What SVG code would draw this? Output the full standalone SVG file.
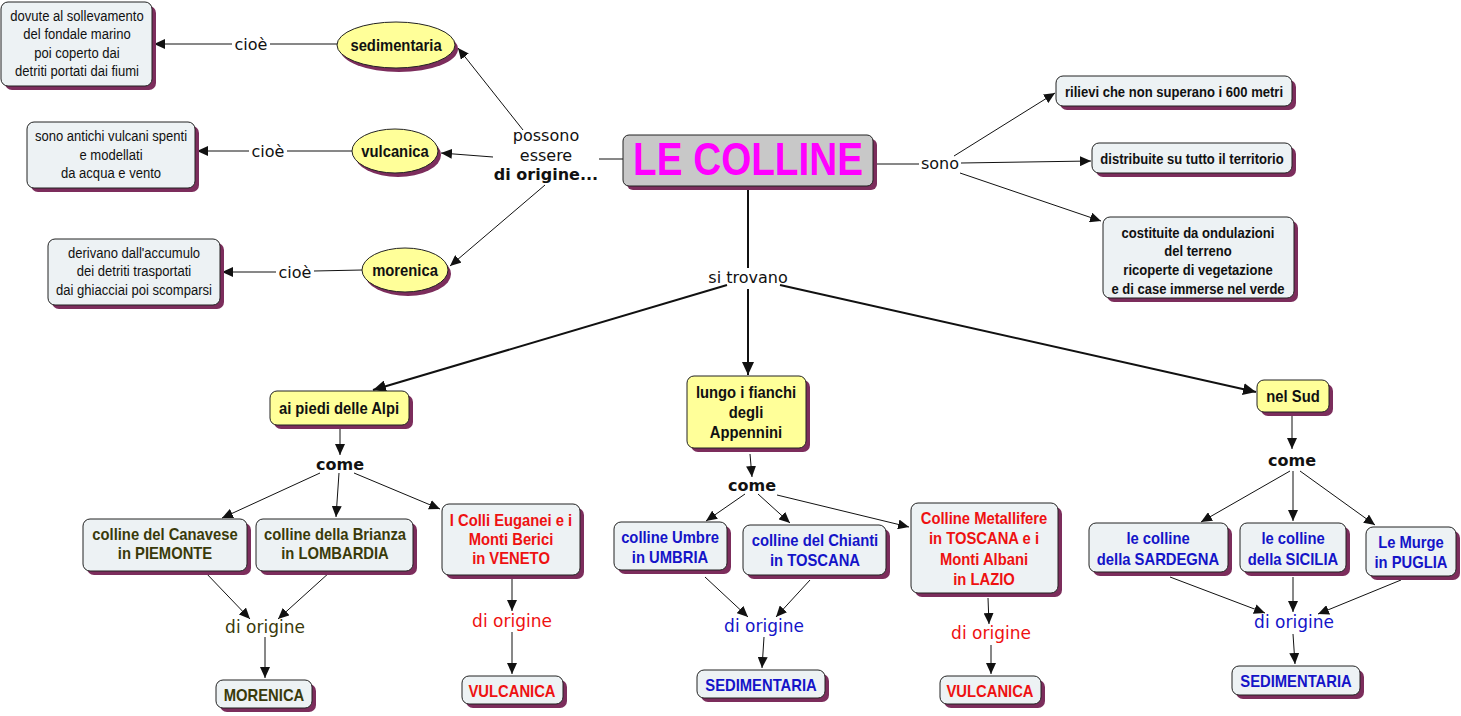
<svg xmlns="http://www.w3.org/2000/svg" width="1461" height="716" viewBox="0 0 1461 716">
<defs>
<style>
.bg{fill:#ffffff}
.sh{fill:#7c2d5c}
.box{fill:#edf2f4;stroke:#222;stroke-width:1}
.yel{fill:#ffff99;stroke:#222;stroke-width:1}
.main{fill:#c8c8c8;stroke:#222;stroke-width:1}
.t{font-family:"Liberation Sans",Arial,sans-serif;text-anchor:middle}
.b{font-weight:bold}
.r13{font-size:15px;fill:#111}
.b13{font-size:15px;font-weight:bold;fill:#111}
.b15{font-size:17px;font-weight:bold}
.b16{font-size:17px;font-weight:bold}
.lk{font-family:"DejaVu Sans",Verdana,sans-serif;text-anchor:middle;font-size:16px;fill:#111}
.dio{font-family:"DejaVu Sans",Verdana,sans-serif;text-anchor:middle;font-size:17px}
.ol{fill:#3a3a0a}
.rd{fill:#ee1111}
.bl{fill:#1414c8}
.bk{fill:#111}
.c line{stroke:#111;stroke-width:1;fill:none}
.c line.a{marker-end:url(#ar)}
.c line.w{stroke-width:2}
.c line.wa{stroke-width:2;marker-end:url(#ar2)}
</style>
<marker id="ar" markerUnits="userSpaceOnUse" markerWidth="11" markerHeight="10" refX="11" refY="5" orient="auto"><path d="M0,0 L11,5 L0,10 z" fill="#111"/></marker>
<marker id="ar2" markerUnits="userSpaceOnUse" markerWidth="13" markerHeight="12" refX="13" refY="6" orient="auto"><path d="M0,0 L13,6 L0,12 z" fill="#111"/></marker>
</defs>
<rect class="bg" x="0" y="0" width="1461" height="716"/>

<g id="connectors" class="c">
<line x1="337" y1="44" x2="270" y2="44"/>
<line class="a" x1="232" y1="44" x2="154" y2="44"/>
<line x1="352" y1="151" x2="287" y2="151"/>
<line class="a" x1="249" y1="151" x2="197" y2="151"/>
<line x1="362" y1="270" x2="314" y2="271"/>
<line class="a" x1="276" y1="272" x2="222" y2="272"/>
<line x1="623" y1="159" x2="599" y2="159"/>
<line class="a" x1="523" y1="130" x2="458" y2="48"/>
<line class="a" x1="493" y1="157" x2="441" y2="153"/>
<line class="a" x1="545" y1="185" x2="450" y2="266"/>
<line x1="873" y1="164" x2="919" y2="164"/>
<line class="a" x1="954" y1="156" x2="1055" y2="93"/>
<line class="a" x1="961" y1="163" x2="1091" y2="161"/>
<line class="a" x1="960" y1="173" x2="1101" y2="221"/>
<line class="w" x1="748" y1="187" x2="748" y2="268"/>
<line class="wa" x1="727" y1="285" x2="373" y2="390"/>
<line class="wa" x1="748" y1="289" x2="748" y2="375"/>
<line class="wa" x1="780" y1="285" x2="1256" y2="392"/>
<line class="a" x1="340" y1="426" x2="340" y2="455"/>
<line class="a" x1="320" y1="473" x2="222" y2="518"/>
<line class="a" x1="339" y1="473" x2="336" y2="517"/>
<line class="a" x1="354" y1="473" x2="440" y2="509"/>
<line class="a" x1="205" y1="572" x2="250" y2="619"/>
<line class="a" x1="330" y1="572" x2="278" y2="619"/>
<line class="a" x1="265" y1="637" x2="265" y2="678"/>
<line class="a" x1="512" y1="576" x2="512" y2="611"/>
<line class="a" x1="512" y1="632" x2="512" y2="674"/>
<line class="a" x1="750" y1="454" x2="752" y2="477"/>
<line class="a" x1="745" y1="494" x2="706" y2="521"/>
<line class="a" x1="758" y1="494" x2="790" y2="523"/>
<line class="a" x1="777" y1="495" x2="909" y2="527"/>
<line class="a" x1="705" y1="577" x2="748" y2="617"/>
<line class="a" x1="810" y1="580" x2="776" y2="617"/>
<line class="a" x1="764" y1="637" x2="762" y2="668"/>
<line class="a" x1="988" y1="598" x2="989" y2="624"/>
<line class="a" x1="991" y1="645" x2="991" y2="674"/>
<line class="a" x1="1292" y1="414" x2="1292" y2="449"/>
<line class="a" x1="1290" y1="471" x2="1201" y2="522"/>
<line class="a" x1="1293" y1="471" x2="1293" y2="521"/>
<line class="a" x1="1300" y1="471" x2="1375" y2="525"/>
<line class="a" x1="1170" y1="577" x2="1265" y2="613"/>
<line class="a" x1="1293" y1="577" x2="1293" y2="612"/>
<line class="a" x1="1401" y1="580" x2="1318" y2="614"/>
<line class="a" x1="1293" y1="634" x2="1295" y2="664"/>
</g>

<g id="link-labels">
<text class="lk" x="251" y="50">cioè</text>
<text class="lk" x="268" y="157">cioè</text>
<text class="lk" x="295" y="278">cioè</text>
<text class="lk" x="546" y="141">possono</text>
<text class="lk" x="546" y="161">essere</text>
<text class="lk b" x="546" y="180">di origine...</text>
<text class="lk" x="940" y="169">sono</text>
<text class="lk" x="748" y="283">si trovano</text>
<text class="lk b" x="340" y="470">come</text>
<text class="lk b" x="752" y="491">come</text>
<text class="lk b" x="1292" y="466">come</text>
<text class="dio ol" x="265" y="633">di origine</text>
<text class="dio rd" x="512" y="627">di origine</text>
<text class="dio bl" x="764" y="632">di origine</text>
<text class="dio rd" x="991" y="639">di origine</text>
<text class="dio bl" x="1294" y="628">di origine</text>
</g>

<g id="n-main">
<rect class="sh" x="627" y="139" width="250" height="51" rx="6"/>
<rect class="main" x="623" y="135" width="250" height="51" rx="6"/>
<text class="t b" x="748" y="175" font-size="46" fill="#ff00ff" textLength="230" lengthAdjust="spacingAndGlyphs">LE COLLINE</text>
</g>

<g id="n-sedimentaria">
<ellipse class="sh" cx="399" cy="49" rx="59" ry="23"/>
<ellipse class="yel" cx="396" cy="45" rx="59" ry="23"/>
<text class="t b15 bk" transform="translate(396,51) scale(0.87,1)">sedimentaria</text>
</g>
<g id="n-vulcanica">
<ellipse class="sh" cx="398" cy="155" rx="43" ry="22"/>
<ellipse class="yel" cx="395" cy="151" rx="43" ry="22"/>
<text class="t b15 bk" transform="translate(395,157) scale(0.87,1)">vulcanica</text>
</g>
<g id="n-morenica">
<ellipse class="sh" cx="408" cy="274" rx="43" ry="22"/>
<ellipse class="yel" cx="405" cy="270" rx="43" ry="22"/>
<text class="t b15 bk" transform="translate(405,276) scale(0.87,1)">morenica</text>
</g>

<g id="n-dovute">
<rect class="sh" x="5" y="6" width="151" height="84" rx="7"/>
<rect class="box" x="1" y="2" width="151" height="84" rx="7"/>
<text class="t r13" transform="translate(77,21) scale(0.87,1)">dovute al sollevamento</text>
<text class="t r13" transform="translate(77,39) scale(0.87,1)">del fondale marino</text>
<text class="t r13" transform="translate(77,58) scale(0.87,1)">poi coperto dai</text>
<text class="t r13" transform="translate(77,76) scale(0.87,1)">detriti portati dai fiumi</text>
</g>
<g id="n-antichi">
<rect class="sh" x="31" y="126" width="168" height="66" rx="7"/>
<rect class="box" x="27" y="122" width="168" height="66" rx="7"/>
<text class="t r13" transform="translate(111,141) scale(0.87,1)">sono antichi vulcani spenti</text>
<text class="t r13" transform="translate(111,160) scale(0.87,1)">e modellati</text>
<text class="t r13" transform="translate(111,178) scale(0.87,1)">da acqua e vento</text>
</g>
<g id="n-derivano">
<rect class="sh" x="52" y="243" width="172" height="66" rx="7"/>
<rect class="box" x="48" y="239" width="172" height="66" rx="7"/>
<text class="t r13" transform="translate(134,258) scale(0.87,1)">derivano dall'accumulo</text>
<text class="t r13" transform="translate(134,276) scale(0.87,1)">dei detriti trasportati</text>
<text class="t r13" transform="translate(134,295) scale(0.87,1)">dai ghiacciai poi scomparsi</text>
</g>

<g id="n-rilievi">
<rect class="sh" x="1060" y="80" width="236" height="30" rx="7"/>
<rect class="box" x="1056" y="76" width="236" height="30" rx="7"/>
<text class="t b13" transform="translate(1174,97) scale(0.87,1)">rilievi che non superano i 600 metri</text>
</g>
<g id="n-distribuite">
<rect class="sh" x="1096" y="147" width="200" height="30" rx="7"/>
<rect class="box" x="1092" y="143" width="200" height="30" rx="7"/>
<text class="t b13" transform="translate(1192,164) scale(0.87,1)">distribuite su tutto il territorio</text>
</g>
<g id="n-costituite">
<rect class="sh" x="1107" y="221" width="191" height="81" rx="7"/>
<rect class="box" x="1103" y="217" width="191" height="81" rx="7"/>
<text class="t b13" transform="translate(1198,238) scale(0.87,1)">costituite da ondulazioni</text>
<text class="t b13" transform="translate(1198,256) scale(0.87,1)">del terreno</text>
<text class="t b13" transform="translate(1198,275) scale(0.87,1)">ricoperte di vegetazione</text>
<text class="t b13" transform="translate(1198,294) scale(0.87,1)">e di case immerse nel verde</text>
</g>

<g id="n-alpi">
<rect class="sh" x="274" y="395" width="139" height="34" rx="7"/>
<rect class="yel" x="270" y="391" width="139" height="34" rx="7"/>
<text class="t b15 bk" transform="translate(339,414) scale(0.87,1)">ai piedi delle Alpi</text>
</g>
<g id="n-appennini">
<rect class="sh" x="691" y="380" width="119" height="72" rx="7"/>
<rect class="yel" x="687" y="376" width="119" height="72" rx="7"/>
<text class="t b15 bk" transform="translate(746,398) scale(0.87,1)">lungo i fianchi</text>
<text class="t b15 bk" transform="translate(746,418) scale(0.87,1)">degli</text>
<text class="t b15 bk" transform="translate(746,438) scale(0.87,1)">Appennini</text>
</g>
<g id="n-sud">
<rect class="sh" x="1261" y="384" width="72" height="32" rx="7"/>
<rect class="yel" x="1257" y="380" width="72" height="32" rx="7"/>
<text class="t b15 bk" transform="translate(1293,402) scale(0.87,1)">nel Sud</text>
</g>

<g id="n-canavese">
<rect class="sh" x="87" y="523" width="164" height="52" rx="7"/>
<rect class="box" x="83" y="519" width="164" height="52" rx="7"/>
<text class="t b15 ol" transform="translate(165,540) scale(0.87,1)">colline del Canavese</text>
<text class="t b15 ol" transform="translate(165,559) scale(0.87,1)">in PIEMONTE</text>
</g>
<g id="n-brianza">
<rect class="sh" x="260" y="523" width="157" height="52" rx="7"/>
<rect class="box" x="256" y="519" width="157" height="52" rx="7"/>
<text class="t b15 ol" transform="translate(335,540) scale(0.87,1)">colline della Brianza</text>
<text class="t b15 ol" transform="translate(335,559) scale(0.87,1)">in LOMBARDIA</text>
</g>
<g id="n-veneto">
<rect class="sh" x="446" y="508" width="138" height="71" rx="7"/>
<rect class="box" x="442" y="504" width="138" height="71" rx="7"/>
<text class="t b15 rd" transform="translate(511,526) scale(0.87,1)">I Colli Euganei e i</text>
<text class="t b15 rd" transform="translate(511,545) scale(0.87,1)">Monti Berici</text>
<text class="t b15 rd" transform="translate(511,564) scale(0.87,1)">in VENETO</text>
</g>
<g id="n-umbre">
<rect class="sh" x="618" y="526" width="113" height="48" rx="7"/>
<rect class="box" x="614" y="522" width="113" height="48" rx="7"/>
<text class="t b15 bl" transform="translate(670,543) scale(0.87,1)">colline Umbre</text>
<text class="t b15 bl" transform="translate(670,563) scale(0.87,1)">in UMBRIA</text>
</g>
<g id="n-chianti">
<rect class="sh" x="747" y="529" width="143" height="50" rx="7"/>
<rect class="box" x="743" y="525" width="143" height="50" rx="7"/>
<text class="t b15 bl" transform="translate(815,546) scale(0.87,1)">colline del Chianti</text>
<text class="t b15 bl" transform="translate(815,566) scale(0.87,1)">in TOSCANA</text>
</g>
<g id="n-metallifere">
<rect class="sh" x="915" y="507" width="147" height="90" rx="7"/>
<rect class="box" x="911" y="503" width="147" height="90" rx="7"/>
<text class="t b15 rd" transform="translate(984,524) scale(0.87,1)">Colline Metallifere</text>
<text class="t b15 rd" transform="translate(984,544) scale(0.87,1)">in TOSCANA e i</text>
<text class="t b15 rd" transform="translate(984,565) scale(0.87,1)">Monti Albani</text>
<text class="t b15 rd" transform="translate(984,585) scale(0.87,1)">in LAZIO</text>
</g>
<g id="n-sardegna">
<rect class="sh" x="1093" y="527" width="139" height="49" rx="7"/>
<rect class="box" x="1089" y="523" width="139" height="49" rx="7"/>
<text class="t b15 bl" transform="translate(1158,544) scale(0.87,1)">le colline</text>
<text class="t b15 bl" transform="translate(1158,565) scale(0.87,1)">della SARDEGNA</text>
</g>
<g id="n-sicilia">
<rect class="sh" x="1244" y="527" width="106" height="49" rx="7"/>
<rect class="box" x="1240" y="523" width="106" height="49" rx="7"/>
<text class="t b15 bl" transform="translate(1293,544) scale(0.87,1)">le colline</text>
<text class="t b15 bl" transform="translate(1293,565) scale(0.87,1)">della SICILIA</text>
</g>
<g id="n-murge">
<rect class="sh" x="1370" y="531" width="90" height="49" rx="7"/>
<rect class="box" x="1366" y="527" width="90" height="49" rx="7"/>
<text class="t b15 bl" transform="translate(1411,548) scale(0.87,1)">Le Murge</text>
<text class="t b15 bl" transform="translate(1411,568) scale(0.87,1)">in PUGLIA</text>
</g>

<g id="n-morenica2">
<rect class="sh" x="220" y="684" width="96" height="28" rx="7"/>
<rect class="box" x="216" y="680" width="96" height="28" rx="7"/>
<text class="t b16 ol" transform="translate(264,701) scale(0.87,1)">MORENICA</text>
</g>
<g id="n-vulcanica2">
<rect class="sh" x="466" y="680" width="101" height="28" rx="7"/>
<rect class="box" x="462" y="676" width="101" height="28" rx="7"/>
<text class="t b16 rd" transform="translate(512,697) scale(0.87,1)">VULCANICA</text>
</g>
<g id="n-sedimentaria2">
<rect class="sh" x="701" y="674" width="128" height="28" rx="7"/>
<rect class="box" x="697" y="670" width="128" height="28" rx="7"/>
<text class="t b16 bl" transform="translate(761,691) scale(0.87,1)">SEDIMENTARIA</text>
</g>
<g id="n-vulcanica3">
<rect class="sh" x="944" y="680" width="101" height="28" rx="7"/>
<rect class="box" x="940" y="676" width="101" height="28" rx="7"/>
<text class="t b16 rd" transform="translate(990,697) scale(0.87,1)">VULCANICA</text>
</g>
<g id="n-sedimentaria3">
<rect class="sh" x="1236" y="670" width="128" height="29" rx="7"/>
<rect class="box" x="1232" y="666" width="128" height="29" rx="7"/>
<text class="t b16 bl" transform="translate(1296,687) scale(0.87,1)">SEDIMENTARIA</text>
</g>
</svg>
